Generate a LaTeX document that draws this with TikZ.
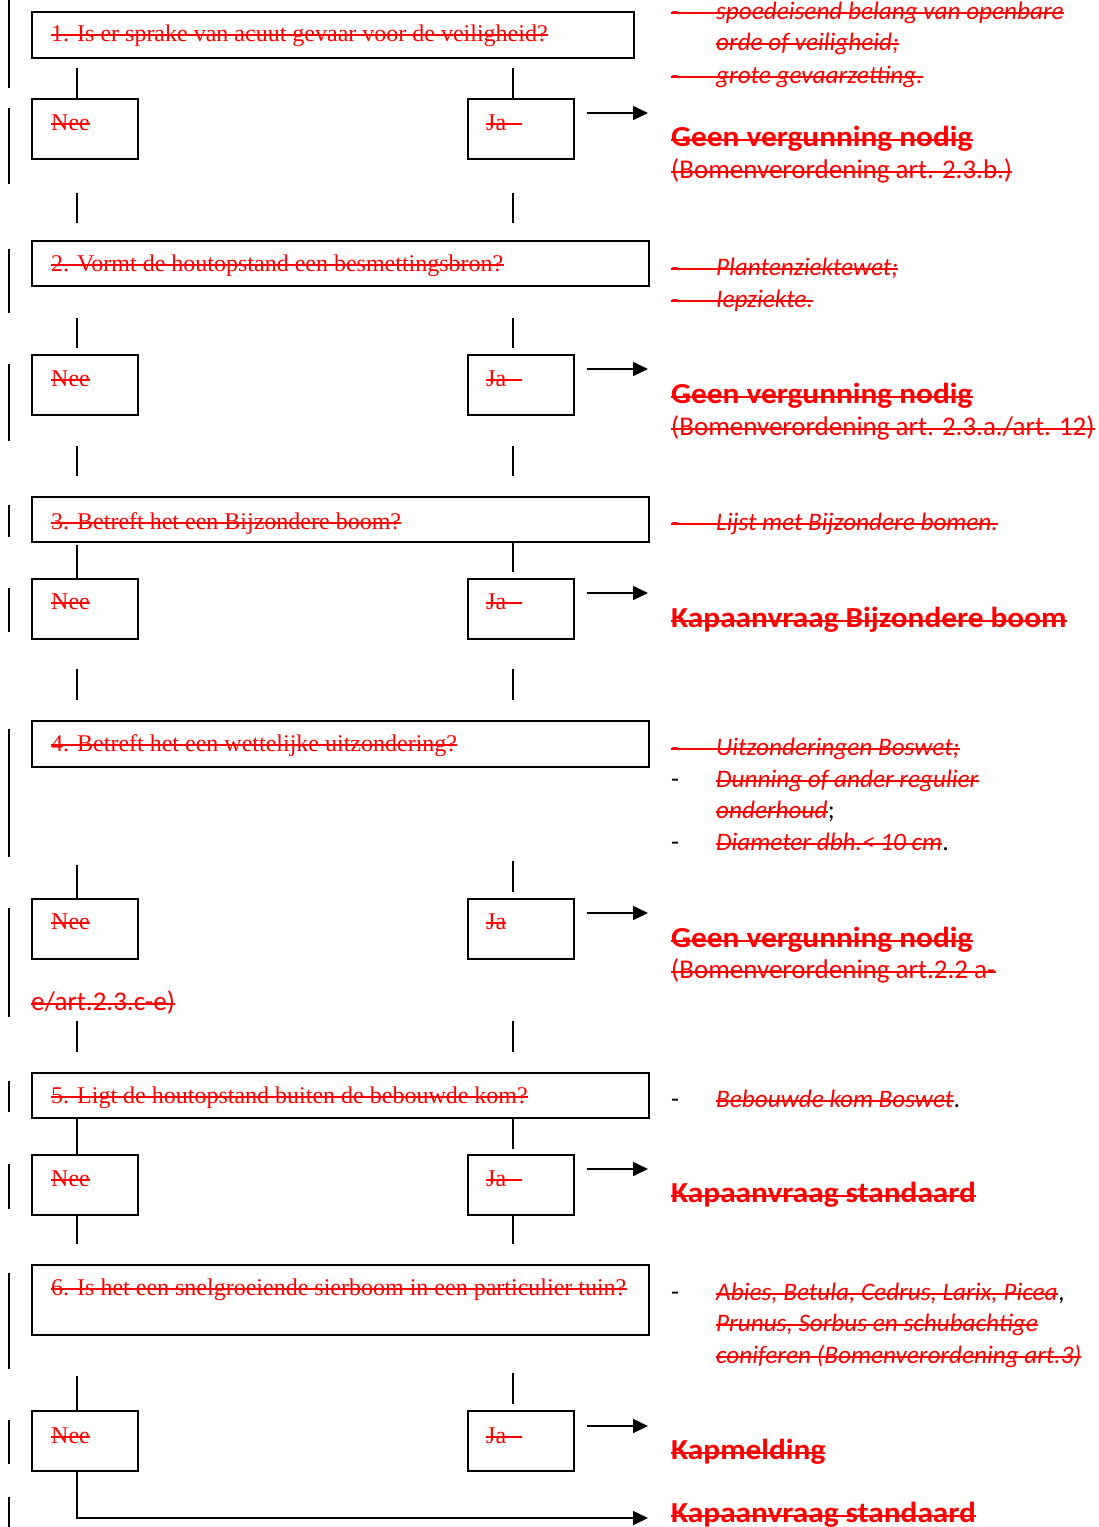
\documentclass[tikz,border=0pt]{standalone}
\usepackage{fontspec}
\setmainfont{Liberation Serif}
\newfontfamily\gsfont{Carlito}
\newfontfamily\gsbold{Carlito Bold}[FakeStretch=1.08]
\usetikzlibrary{arrows.meta}
\tikzset{
  qbox/.style={draw=black, line width=1.6pt, anchor=north west, inner sep=0pt},
  qtext/.style={anchor=base west, inner sep=0pt, text=red, font=\fontsize{24}{28}\selectfont},
  note/.style={anchor=base west, inner sep=0pt, text=red, font=\gsfont\itshape\fontsize{25.2}{30}\selectfont},
  blackdash/.style={anchor=base west, inner sep=0pt, text=black, font=\gsfont\fontsize{26}{30}\selectfont},
  res/.style={anchor=base west, inner sep=0pt, text=red, font=\gsbold\fontsize{29}{32}\selectfont},
  reftext/.style={anchor=base west, inner sep=0pt, text=red, font=\gsfont\fontsize{27}{30}\selectfont},
  conn/.style={line width=1.5pt},
  arr/.style={line width=1.6pt, -{Triangle[length=15pt,width=14pt]}},
  bar/.style={line width=2.5pt},
  strk/.style={draw=red, line width=2pt},
}
\newcommand\dsh{\makebox[45pt][l]{-}}
\newcommand\strk[2][0pt]{\draw[strk] ([yshift=6.5pt]#2.base west) -- ([xshift=#1,yshift=6.5pt]#2.base east);}
\begin{document}
\begin{tikzpicture}[x=1pt,y=-1pt]
\useasboundingbox (0,0) rectangle (1099,1527);
% left margin bars
\foreach \ya/\yb in {0/88,108/184,249/313,364/441,505/537,588/632,729/857,908/1017,1081/1112,1164/1209,1273/1369,1420/1464,1497/1527}
  \draw[bar] (9,\ya) -- (9,\yb);
% question boxes
\node[qbox, minimum width=602pt, minimum height=46pt] (q1) at (31,11) {};
\node[qbox, minimum width=617pt, minimum height=45pt] (q2) at (31,240) {};
\node[qbox, minimum width=617pt, minimum height=45pt] (q3) at (31,496) {};
\node[qbox, minimum width=617pt, minimum height=46pt] (q4) at (31,720) {};
\node[qbox, minimum width=617pt, minimum height=45pt] (q5) at (31,1072) {};
\node[qbox, minimum width=617pt, minimum height=70pt] (q6) at (31,1264) {};
\node[qtext] (q1t) at (51,41) {1. Is er sprake van acuut gevaar voor de veiligheid?};
\node[qtext] (q2t) at (51,271) {2. Vormt de houtopstand een besmettingsbron?};
\node[qtext] (q3t) at (51,529) {3. Betreft het een Bijzondere boom?};
\node[qtext] (q4t) at (51,751) {4. Betreft het een wettelijke uitzondering?};
\node[qtext] (q5t) at (51,1103) {5. Ligt de houtopstand buiten de bebouwde kom?};
\node[qtext] (q6t) at (51,1295) {6. Is het een snelgroeiende sierboom in een particulier tuin?};
\foreach \n in {q1t,q2t,q3t,q4t,q5t,q6t} {\strk{\n}}
% Nee / Ja boxes
\foreach \i/\y in {1/98,2/354,3/578,4/898,5/1154,6/1410}{
  \node[qbox, minimum width=106pt, minimum height=60pt] (nee\i) at (31,\y) {};
  \node[qbox, minimum width=106pt, minimum height=60pt] (ja\i) at (467,\y) {};
}
\foreach \i/\y in {1/130,2/386,3/609,4/929,5/1186,6/1443}{
  \node[qtext] (neet\i) at (51,\y) {Nee};
  \strk{neet\i}
}
\foreach \i/\y in {1/130,2/386,3/609,5/1186,6/1443}{
  \node[qtext] (jat\i) at (486,\y) {Ja};
  \strk[16pt]{jat\i}
}
\node[qtext] (jat4) at (486,929) {Ja};
\strk{jat4}
% connectors
\foreach \i/\x/\ya/\yb in {1/77/68/98,2/513/68/98,3/77/193/223,4/513/193/223,5/77/318/348,6/513/318/348,
  7/77/446/476,8/513/446/476,9/77/545/578,10/513/541/572,11/77/669/700,12/513/669/700,
  13/77/865/898,14/513/861/892,15/77/1021/1052,16/513/1021/1052,17/77/1119/1154,18/513/1117/1149,
  19/77/1214/1244,20/513/1214/1244,21/77/1376/1410,22/513/1373/1404}{
  \coordinate (c\i a) at (\x,\ya);
  \coordinate (c\i b) at (\x,\yb);
  \draw[conn] (c\i a) -- (c\i b);
}
% arrows
\foreach \i/\y in {1/113,2/369,3/593,4/913,5/1169,6/1426}{
  \coordinate (a\i s) at (587,\y);
  \coordinate (a\i e) at (648,\y);
  \draw[arr] (a\i s) -- (a\i e);
}
\coordinate (a7e) at (648,1518);
\draw[arr] (c21b |- nee6.south) |- (a7e);
% right-hand notes
\node[note] (n1a) at (671,19) {\dsh spoedeisend belang van openbare};
\node[note] (n1b) at (716,50) {orde of veiligheid;};
\node[note] (n1c) at (671,83) {\dsh grote gevaarzetting.};
\node[res] (r1) at (671,146) {Geen vergunning nodig};
\node[reftext] (p1) at (671,178) {(Bomenverordening art. 2.3.b.)};

\node[note] (n2a) at (671,275) {\dsh Plantenziektewet;};
\node[note] (n2b) at (671,307) {\dsh Iepziekte.};
\node[res] (r2) at (671,403) {Geen vergunning nodig};
\node[reftext] (p2) at (671,435) {(Bomenverordening art. 2.3.a./art. 12)};

\node[note] (n3a) at (671,530) {\dsh Lijst met Bijzondere bomen.};
\node[res] (r3) at (671,627) {Kapaanvraag Bijzondere boom};

\node[note] (n4a) at (671,755) {\dsh Uitzonderingen Boswet;};
\node[blackdash] (d4b) at (671,787) {-};
\node[note] (n4b) at (716,787) {Dunning of ander regulier};
\node[note] (n4c) at (716,818) {onderhoud};
\node[blackdash] (n4cx) at (n4c.base east) {;};
\node[blackdash] (d4d) at (671,850) {-};
\node[note] (n4d) at (716,850) {Diameter dbh.< 10 cm};
\node[blackdash] (n4dx) at (n4d.base east) {.};
\node[res] (r4) at (671,947) {Geen vergunning nodig};
\node[reftext] (p4) at (671,978) {(Bomenverordening art.2.2 a-};
\node[reftext] (p4b) at (31,1010) {e/art.2.3.c-e)};

\node[blackdash] (d5a) at (671,1107) {-};
\node[note] (n5a) at (716,1107) {Bebouwde kom Boswet};
\node[blackdash] (n5ax) at (n5a.base east) {.};
\node[res] (r5) at (671,1202) {Kapaanvraag standaard};

\node[blackdash] (d6a) at (671,1300) {-};
\node[note] (n6a) at (716,1300) {Abies, Betula, Cedrus, Larix, Picea};
\node[blackdash] (n6ax) at (n6a.base east) {,};
\node[note] (n6b) at (716,1331) {Prunus, Sorbus en schubachtige};
\node[note] (n6c) at (716,1363) {coniferen (Bomenverordening art.3)};
\node[res] (r6a) at (671,1459) {Kapmelding};
\node[res] (r6b) at (671,1522) {Kapaanvraag standaard};
\foreach \n in {n1a,n1b,n1c,r1,p1,n2a,n2b,r2,p2,n3a,r3,n4a,n4b,n4c,n4d,r4,p4,p4b,n5a,r5,n6a,n6b,n6c,r6a,r6b} {\strk{\n}}
\end{tikzpicture}
\end{document}
